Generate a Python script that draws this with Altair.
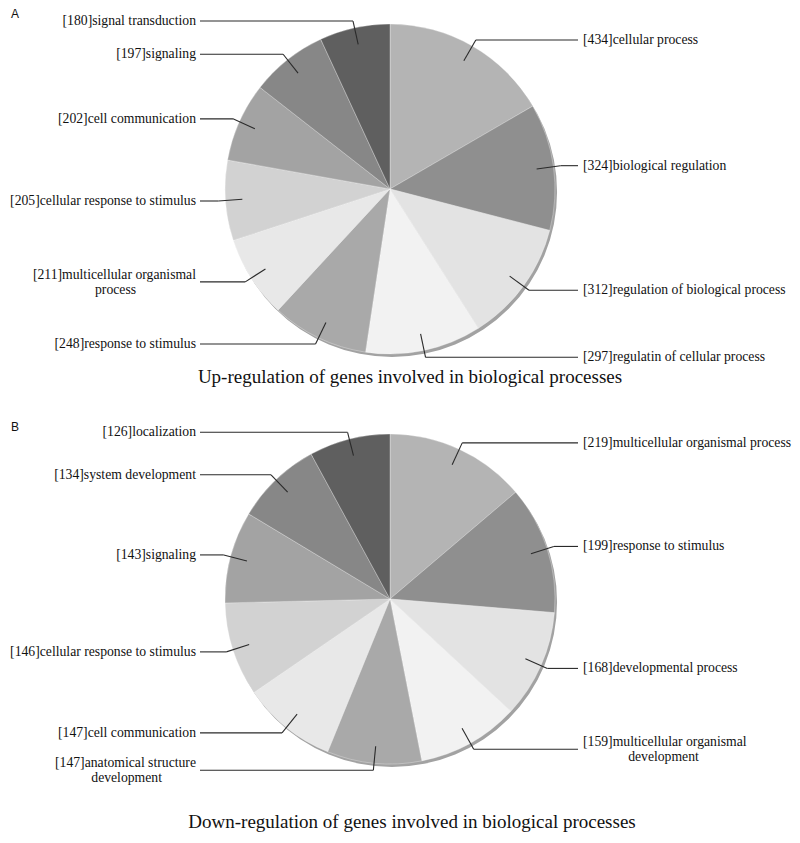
import altair as alt
import pandas as pd

# ---------------- data ----------------
a_names = ["cellular process", "biological regulation", "regulation of biological process",
           "regulatin of cellular process", "response to stimulus",
           "multicellular organismal\nprocess", "cellular response to stimulus",
           "cell communication", "signaling", "signal transduction"]
a_values = [434, 324, 312, 297, 248, 211, 205, 202, 197, 180]

b_names = ["multicellular organismal process", "response to stimulus", "developmental process",
           "multicellular organismal\ndevelopment", "anatomical structure\ndevelopment",
           "cell communication", "cellular response to stimulus", "signaling",
           "system development", "localization"]
b_values = [219, 199, 168, 159, 147, 147, 146, 143, 134, 126]

titles = ["Up-regulation of genes involved in biological processes",
          "Down-regulation of genes involved in biological processes"]
panel_letters = ["A", "B"]

palette = ["#b4b4b4", "#8f8f8f", "#e3e3e3", "#f2f2f2", "#a9a9a9",
           "#e8e8e8", "#d2d2d2", "#a3a3a3", "#878787", "#5f5f5f"]

# ---------------- layout ----------------
W, H = 784, 827
R = 165        # pie radius
R_IN = 148     # leader start radius
R_EL = 172     # leader elbow radius
SERIF = "Liberation Serif"
LABEL_SIZE = 13.7
CHAR_W = 5.55  # approx. label char width, used to centre wrapped second lines


def make_df(names, values):
    rows = []
    for i, (n, v) in enumerate(zip(names, values)):
        parts = n.split("\n")
        rows.append({"idx": i, "value": v,
                     "line1": f"[{v}]{parts[0]}",
                     "line2": parts[1] if len(parts) > 1 else ""})
    return pd.DataFrame(rows)


def pie(df, cx, cy, title, letter, title_x, title_y, letter_y):
    g = (alt.Chart(df)
         .transform_joinaggregate(total="sum(value)")
         .transform_window(cum="sum(value)", sort=[alt.SortField("idx", order="ascending")],
                           frame=[None, 0])
         .transform_calculate(a0="(datum.cum - datum.value) / datum.total * 2 * PI")
         .transform_calculate(a1="datum.cum / datum.total * 2 * PI")
         .transform_calculate(mid="(datum.cum - datum.value / 2) / datum.total * 2 * PI")
         .transform_calculate(side="sin(datum.mid) >= 0 ? 1 : -1")
         .transform_calculate(ix=f"{cx} + {R_IN} * sin(datum.mid)")
         .transform_calculate(iy=f"{cy} - {R_IN} * cos(datum.mid)")
         .transform_calculate(ex=f"{cx} + {R_EL} * sin(datum.mid)")
         .transform_calculate(ey=f"{cy} - {R_EL} * cos(datum.mid)")
         .transform_calculate(hx=f"datum.side > 0 ? {cx} + 188 : {cx} - 190")
         .transform_calculate(tx=f"datum.side > 0 ? {cx} + 193 : {cx} - 194")
         .transform_calculate(y1="datum.line2 != '' ? datum.ey - 7 : datum.ey")
         .transform_calculate(y2="datum.ey + 8")
         .transform_calculate(cx2=f"datum.tx + datum.side * length(datum.line1) * {CHAR_W} / 2")
         )

    one = pd.DataFrame({"t": [title], "l": [letter]})

    rim = alt.Chart(one).mark_arc(radius=R, theta=0, theta2=6.2832, color="#a2a2a2").encode(
        x=alt.value(cx + 2), y=alt.value(cy + 3))

    arcs = g.mark_arc(radius=R, stroke="#ffffff", strokeWidth=0.6, strokeOpacity=0.5).encode(
        theta=alt.Theta("a0:Q", scale=None, stack=None),
        theta2=alt.Theta2("a1:Q"),
        color=alt.Color("idx:O", scale=alt.Scale(domain=list(range(10)), range=palette),
                        legend=None),
        x=alt.value(cx), y=alt.value(cy))

    line_style = dict(color="#2a2a2a", strokeWidth=1.1)
    radial = g.mark_rule(**line_style).encode(
        x=alt.X("ix:Q", scale=None, axis=None), y=alt.Y("iy:Q", scale=None, axis=None),
        x2="ex:Q", y2="ey:Q")
    horiz = g.mark_rule(**line_style).encode(
        x=alt.X("ex:Q", scale=None, axis=None), y=alt.Y("ey:Q", scale=None, axis=None),
        x2="hx:Q", y2="ey:Q")

    txt = dict(font=SERIF, fontSize=LABEL_SIZE, baseline="middle", color="#111111")
    right1 = g.transform_filter("datum.side > 0").mark_text(align="left", **txt).encode(
        x=alt.X("tx:Q", scale=None, axis=None), y=alt.Y("y1:Q", scale=None, axis=None),
        text="line1:N")
    left1 = g.transform_filter("datum.side < 0").mark_text(align="right", **txt).encode(
        x=alt.X("tx:Q", scale=None, axis=None), y=alt.Y("y1:Q", scale=None, axis=None),
        text="line1:N")
    second = g.transform_filter("datum.line2 != ''").mark_text(align="center", **txt).encode(
        x=alt.X("cx2:Q", scale=None, axis=None), y=alt.Y("y2:Q", scale=None, axis=None),
        text="line2:N")

    ttl = alt.Chart(one).mark_text(font=SERIF, fontSize=19, align="center",
                                   baseline="middle", color="#111111").encode(
        x=alt.value(title_x), y=alt.value(title_y), text="t:N")
    let = alt.Chart(one).mark_text(font="Liberation Sans", fontSize=12, align="left",
                                   baseline="middle", color="#111111").encode(
        x=alt.value(3), y=alt.value(letter_y), text="l:N")

    return [rim, arcs, radial, horiz, right1, left1, second, ttl, let]


layers = (pie(make_df(a_names, a_values), 382, 181, titles[0], panel_letters[0], 402, 369, 6)
          + pie(make_df(b_names, b_values), 382, 591, titles[1], panel_letters[1], 404, 814, 419))

chart = alt.layer(*layers).properties(
    width=W, height=H, autosize=alt.AutoSizeParams(type="none"), padding=0,
    background="white"
).configure_view(stroke=None)

chart.save("out.html", embed_options={"renderer": "svg", "actions": False})
